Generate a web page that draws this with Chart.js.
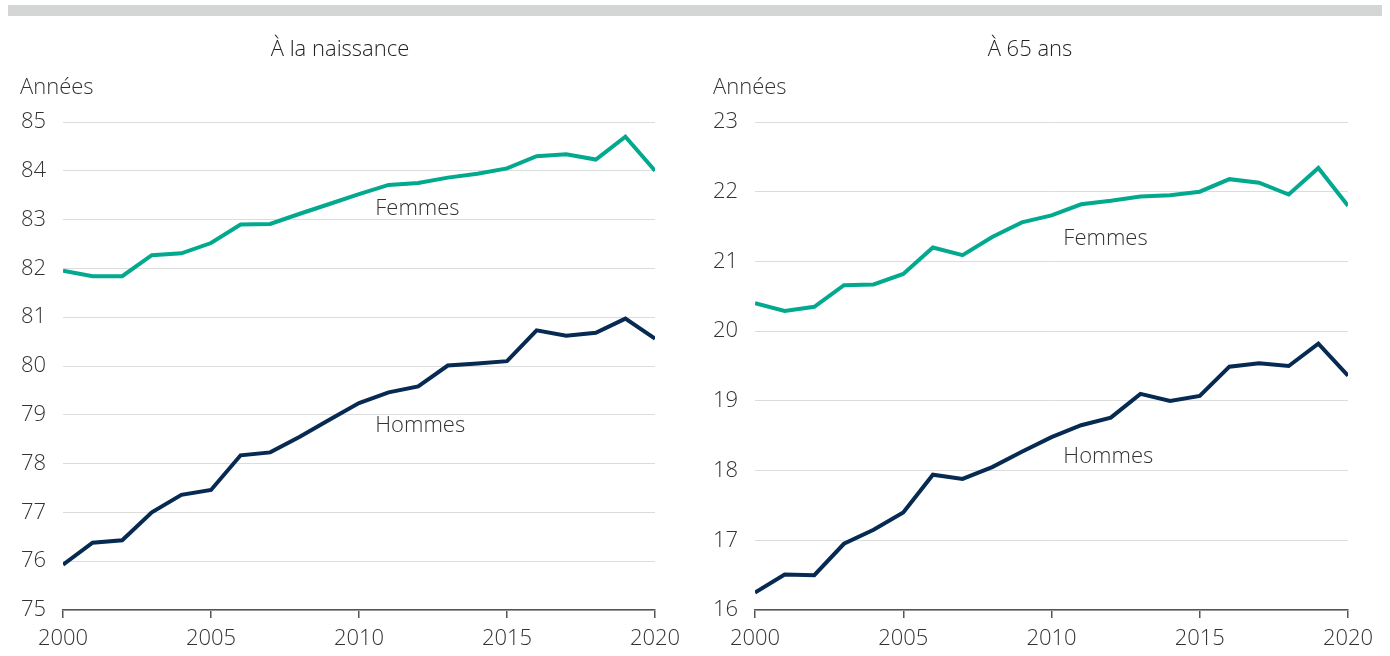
<!DOCTYPE html>
<html>
<head>
<meta charset="utf-8">
<script src="https://cdn.jsdelivr.net/npm/chart.js@4"></script>
<style>
    body { margin: 0; background: #fff; font-family: "Open Sans", sans-serif; color: #333; }
    #wrap { position: relative; width: 1390px; height: 656px; overflow: hidden; }
    .bar { position: absolute; left: 8px; top: 5px; width: 1374px; height: 11px; background: #d4d6d5; }
    .box { position: absolute; top: 0; width: 695px; height: 656px; }
    .title { position: absolute; top: 32px; font-size: 22px; font-weight: 300; color: #222; transform: translateX(-50%); white-space: nowrap; }
    .unit { position: absolute; top: 70px; font-size: 22px; font-weight: 300; color: #333; }
</style>
</head>
<body>
<div id="wrap">
    <div class="bar"></div>
    <div class="box" style="left:0"><canvas id="chart-birth"></canvas></div>
    <div class="box" style="left:695px"><canvas id="chart-65"></canvas></div>
    <div class="title" style="left:340px">À la naissance</div>
    <div class="title" style="left:1030px">À 65 ans</div>
    <div class="unit" style="left:20px">Années</div>
    <div class="unit" style="left:713px">Années</div>
</div>
<script>
const years = [2000, 2001, 2002, 2003, 2004, 2005, 2006, 2007, 2008, 2009, 2010,
    2011, 2012, 2013, 2014, 2015, 2016, 2017, 2018, 2019, 2020];

// espérance de vie à la naissance
const birthWomen = [81.95, 81.84, 81.84, 82.27, 82.31, 82.52, 82.90, 82.91, 83.12, 83.32, 83.52,
    83.71, 83.75, 83.86, 83.94, 84.05, 84.30, 84.34, 84.23, 84.70, 84.00];
const birthMen = [75.93, 76.38, 76.43, 77.00, 77.36, 77.46, 78.17, 78.23, 78.55, 78.90, 79.24,
    79.46, 79.58, 80.01, 80.05, 80.10, 80.73, 80.62, 80.68, 80.97, 80.56];

// espérance de vie à 65 ans
const at65Women = [20.40, 20.29, 20.35, 20.66, 20.67, 20.82, 21.20, 21.09, 21.35, 21.56, 21.66,
    21.82, 21.87, 21.93, 21.95, 22.00, 22.18, 22.13, 21.96, 22.34, 21.80];
const at65Men = [16.25, 16.51, 16.50, 16.95, 17.15, 17.40, 17.94, 17.88, 18.05, 18.27, 18.48,
    18.65, 18.76, 19.10, 19.00, 19.07, 19.49, 19.54, 19.50, 19.82, 19.36];

const seriesNames = ['Femmes', 'Hommes'];
const womenColor = '#03a98f';
const menColor = '#062a52';
const textFont = { family: 'Open Sans', size: 22, weight: 300 };

function toPoints(values) {
    return values.map((v, i) => ({x: years[i], y: v}));
}

// writes "Femmes" / "Hommes" next to the lines, placed in data units
const lineLabels = {
    id: 'lineLabels',
    afterDatasetsDraw(chart, args, opts) {
        const c = chart.ctx;
        c.save();
        c.font = '300 22px "Open Sans", sans-serif';
        c.fillStyle = '#333';
        c.textBaseline = 'middle';
        for (const lab of opts.items) {
            c.fillText(lab.text, chart.scales.x.getPixelForValue(lab.x), chart.scales.y.getPixelForValue(lab.y));
        }
        c.restore();
    }
};

function makeChart(id, women, men, yMin, yMax, yAxisWidth, padRight, labels) {
    const ctx = document.getElementById(id).getContext('2d');
    return new Chart(ctx, {
        type: 'line',
        data: {
            datasets: [{
                label: seriesNames[0],
                data: toPoints(women),
                borderColor: womenColor,
                borderWidth: 4,
                pointRadius: 0,
                tension: 0
            }, {
                label: seriesNames[1],
                data: toPoints(men),
                borderColor: menColor,
                borderWidth: 4,
                pointRadius: 0,
                tension: 0
            }]
        },
        options: {
            responsive: true,
            maintainAspectRatio: false,
            animation: false,
            layout: { padding: { top: 122, right: padRight, bottom: 0, left: 0 } },
            plugins: {
                legend: { display: false },
                tooltip: { enabled: false },
                lineLabels: { items: labels }
            },
            scales: {
                x: {
                    type: 'linear',
                    min: 2000,
                    max: 2020,
                    border: { display: true, color: '#555', width: 1.5 },
                    grid: { drawOnChartArea: false, drawTicks: true, tickLength: 8, color: '#555', lineWidth: 1.5 },
                    ticks: {
                        stepSize: 5,
                        padding: 8,
                        color: '#333',
                        font: textFont,
                        callback: (v) => String(v),
                        maxRotation: 0
                    },
                    afterFit(scale) { scale.height = 46; }
                },
                y: {
                    min: yMin,
                    max: yMax,
                    border: { display: false },
                    grid: { drawTicks: false, color: '#dcdcdc', lineWidth: 1 },
                    ticks: {
                        stepSize: 1,
                        padding: 17,
                        color: '#333',
                        font: textFont
                    },
                    afterFit(scale) { scale.width = yAxisWidth; }
                }
            }
        },
        plugins: [lineLabels]
    });
}

makeChart('chart-birth', birthWomen, birthMen, 75, 85, 63, 40, [
    {text: seriesNames[0], x: 2010.55, y: 83.22},
    {text: seriesNames[1], x: 2010.55, y: 78.78}
]);
makeChart('chart-65', at65Women, at65Men, 16, 23, 60, 42, [
    {text: seriesNames[0], x: 2010.4, y: 21.33},
    {text: seriesNames[1], x: 2010.4, y: 18.2}
]);
</script>
</body>
</html>
